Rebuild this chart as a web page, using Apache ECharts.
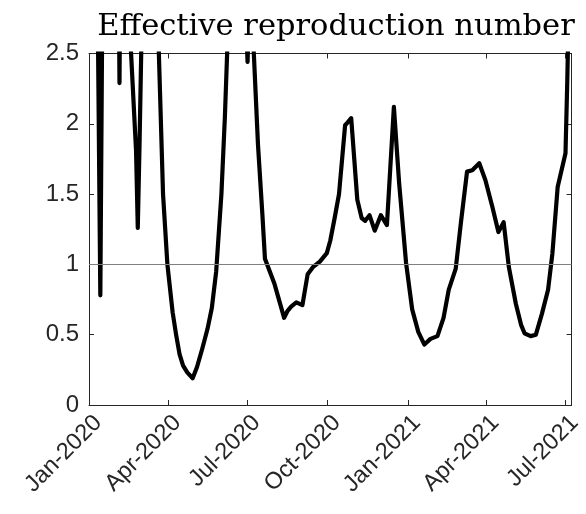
<!DOCTYPE html>
<html>
<head>
<meta charset="utf-8">
<script src="https://cdn.jsdelivr.net/npm/echarts@6/dist/echarts.min.js"></script>
<style>
html,body{margin:0;padding:0;background:#fff;}
#chart{width:586px;height:514px;}
</style>
</head>
<body>
<div id="chart"></div>
<script>
// ---- data ----
const dates = [
  '2020-01-10','2020-01-14','2020-01-17','2020-02-03','2020-02-05','2020-02-07',
  '2020-02-15','2020-02-24','2020-02-26','2020-02-28','2020-03-03',
  '2020-03-20','2020-03-26','2020-03-31','2020-04-06','2020-04-10','2020-04-14',
  '2020-04-18','2020-04-23','2020-04-29','2020-05-04','2020-05-10','2020-05-16',
  '2020-05-21','2020-05-26','2020-06-01','2020-06-05','2020-06-09',
  '2020-06-26','2020-07-01','2020-07-04','2020-07-06','2020-07-13','2020-07-18',
  '2020-07-21','2020-08-01','2020-08-12','2020-08-16','2020-08-20','2020-08-26',
  '2020-09-02','2020-09-08','2020-09-14','2020-09-22','2020-09-30','2020-10-04',
  '2020-10-09','2020-10-14','2020-10-21','2020-10-24','2020-10-28','2020-11-04',
  '2020-11-09','2020-11-13','2020-11-18','2020-11-24','2020-12-01','2020-12-08',
  '2020-12-16','2020-12-22','2020-12-30','2021-01-06','2021-01-13','2021-01-20',
  '2021-01-27','2021-02-04','2021-02-11','2021-02-17','2021-02-25','2021-03-03',
  '2021-03-10','2021-03-16','2021-03-24','2021-03-31','2021-04-08','2021-04-15',
  '2021-04-21','2021-04-27','2021-05-05','2021-05-11','2021-05-15','2021-05-22',
  '2021-05-28','2021-06-04','2021-06-11','2021-06-16','2021-06-22','2021-07-01',
  '2021-07-03','2021-07-05'
];
const rValues = [
  3.5, 0.78, 3.5, 4.0, 2.29, 4.0,
  2.9, 1.81, 1.26, 1.85, 3.2,
  2.75, 1.5, 1.0, 0.66, 0.50, 0.36,
  0.28, 0.23, 0.19, 0.27, 0.40, 0.54,
  0.69, 0.95, 1.5, 2.05, 2.75,
  3.3, 2.44, 3.0, 2.8, 1.85, 1.36,
  1.04, 0.86, 0.62, 0.67, 0.70, 0.73,
  0.71, 0.93, 0.98, 1.02, 1.08, 1.17,
  1.33, 1.50, 1.99, 2.01, 2.04, 1.46,
  1.33, 1.31, 1.35, 1.24, 1.35, 1.28,
  2.12, 1.58, 1.01, 0.68, 0.52, 0.43,
  0.47, 0.49, 0.62, 0.82, 0.97, 1.30,
  1.66, 1.67, 1.72, 1.60, 1.41, 1.23,
  1.30, 0.98, 0.72, 0.57, 0.51, 0.49,
  0.50, 0.65, 0.82, 1.08, 1.55, 1.79,
  2.29, 2.9
];
const xTickDates = ['2020-01-01','2020-04-01','2020-07-01','2020-10-01','2021-01-01','2021-04-01','2021-07-01'];
const xRange = ['2020-01-01','2021-07-08'];
const yRange = [0, 2.5];
const yStep = 0.5;
const threshold = 1;
const titleText = 'Effective reproduction number';
const monthNames = ['Jan','Feb','Mar','Apr','May','Jun','Jul','Aug','Sep','Oct','Nov','Dec'];

function ts(s){ const p = s.split('-').map(Number); return Date.UTC(p[0], p[1]-1, p[2]); }

const seriesData = dates.map((d,i) => [ts(d), rValues[i]]);
const tickTs = xTickDates.map(ts);

const axisColor = '#262626';
const labelFont = 'Liberation Sans, Arial, Helvetica, sans-serif';

const chart = echarts.init(document.getElementById('chart'), null, {renderer:'canvas'});
const xCommon = {
  type: 'value', min: ts(xRange[0]), max: ts(xRange[1]), scale: true,
  axisLine: {show: true, onZero: false, lineStyle: {color: axisColor, width: 1}},
  axisTick: {show: true, inside: true, length: 5, lineStyle: {color: axisColor}, customValues: tickTs},
  splitLine: {show: false}
};
const yCommon = {
  type: 'value', min: yRange[0], max: yRange[1], interval: yStep,
  axisLine: {show: true, onZero: false, lineStyle: {color: axisColor, width: 1}},
  axisTick: {show: true, inside: true, length: 5, lineStyle: {color: axisColor}},
  splitLine: {show: false}
};
chart.setOption({
  animation: false,
  backgroundColor: '#fff',
  title: {
    text: titleText, left: 331, top: 7, textAlign: 'center',
    textStyle: {fontFamily: 'DejaVu Serif', fontWeight: 'normal', fontSize: 30.5, color: '#000'}
  },
  grid: {left: 89, right: 13, top: 53.5, bottom: 109, containLabel: false},
  xAxis: [
    Object.assign({}, xCommon, {
      position: 'bottom',
      axisLabel: {
        show: true, rotate: 45, margin: 5, fontSize: 23.5, fontFamily: labelFont, color: axisColor,
        verticalAlign: 'top', lineHeight: 26,
        customValues: tickTs, hideOverlap: false,
        formatter: v => { const d = new Date(v); return monthNames[d.getUTCMonth()] + '-' + d.getUTCFullYear(); }
      }
    }),
    Object.assign({}, xCommon, {position: 'top', axisLabel: {show: false, customValues: tickTs}})
  ],
  yAxis: [
    Object.assign({}, yCommon, {
      position: 'left',
      axisLabel: {show: true, margin: 10, fontSize: 24, fontFamily: labelFont, color: axisColor}
    }),
    Object.assign({}, yCommon, {position: 'right', axisLabel: {show: false}})
  ],
  series: [{
    type: 'line', xAxisIndex: 0, yAxisIndex: 0, data: seriesData,
    showSymbol: false, symbol: 'none', clip: true,
    lineStyle: {color: '#000', width: 4.2, join: 'round', cap: 'round'},
    markLine: {
      silent: true, symbol: 'none', label: {show: false},
      lineStyle: {color: '#7f7f7f', width: 1, type: 'solid'},
      data: [{yAxis: threshold}]
    }
  }]
});
</script>
</body>
</html>
